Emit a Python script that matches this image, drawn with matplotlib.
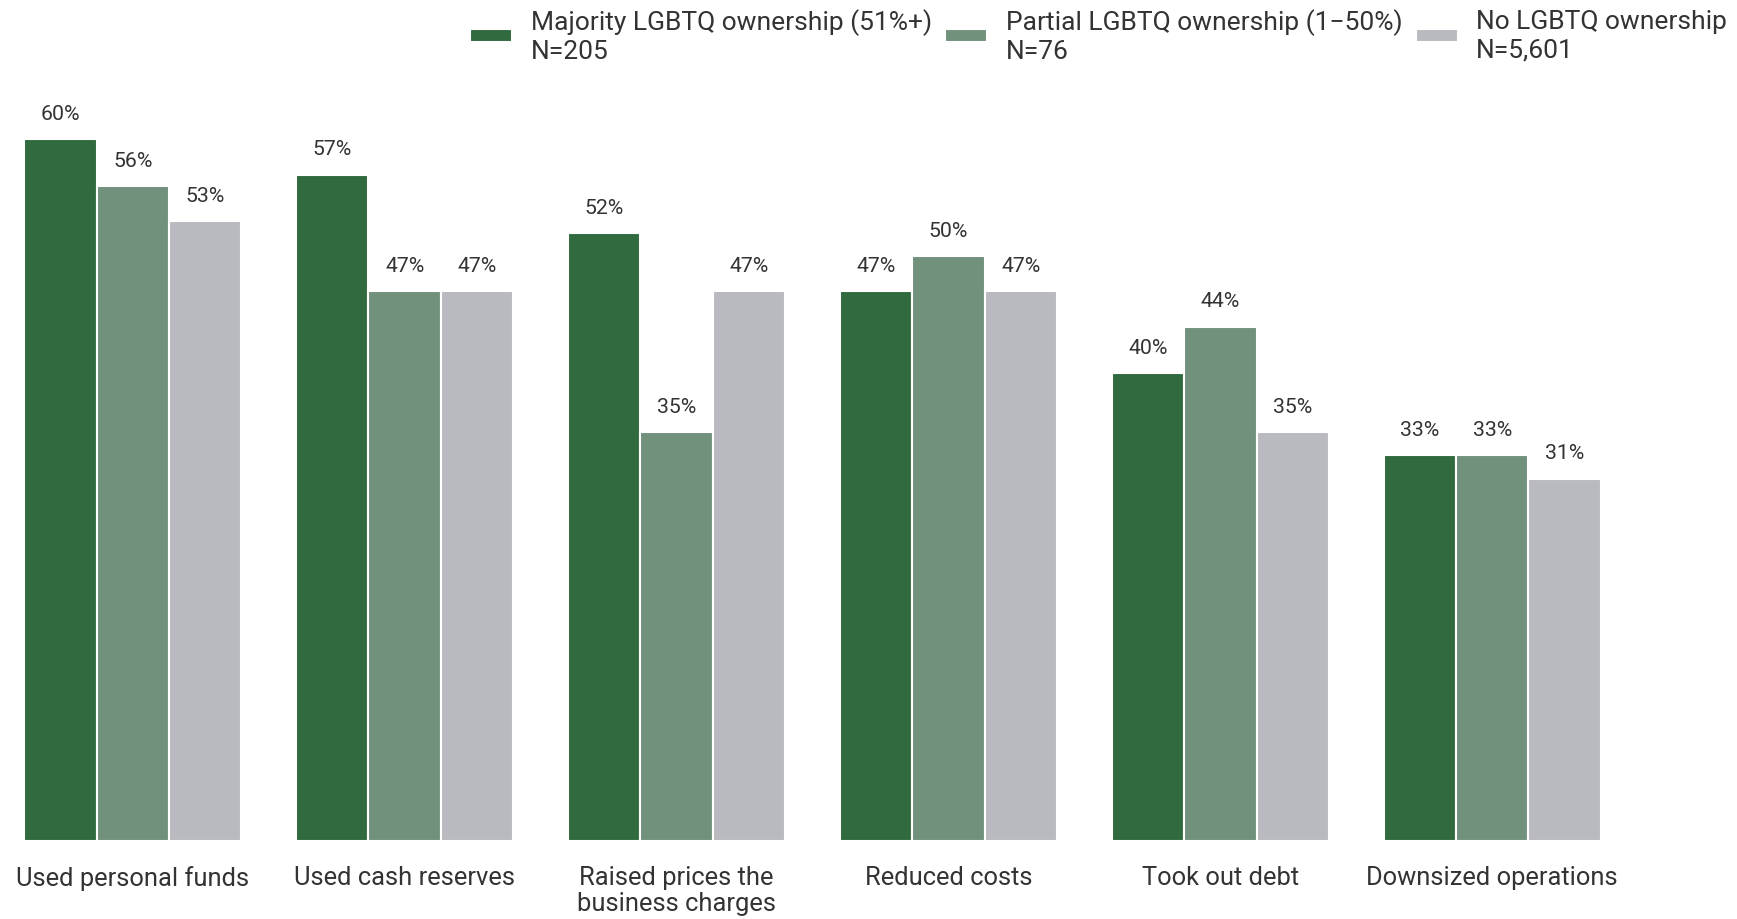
import numpy as np
import matplotlib.pyplot as plt

plt.rcParams['font.family'] = ['Roboto', 'DejaVu Sans']

categories = ["Used personal funds", "Used cash reserves", "Raised prices the\nbusiness charges",
              "Reduced costs", "Took out debt", "Downsized operations"]
majority = [60, 57, 52, 47, 40, 33]
partial = [56, 47, 35, 50, 44, 33]
none_lgbtq = [53, 47, 47, 47, 35, 31]

series_labels = ["Majority LGBTQ ownership (51%+)\nN=205",
                 "Partial LGBTQ ownership (1\u221250%)\nN=76",
                 "No LGBTQ ownership\nN=5,601"]
colors = ["#316a3e", "#72917c", "#b9babf"]


def main():
    fig = plt.figure(figsize=(17.37, 9.2), dpi=100)
    W, H = 1737, 920
    ax = fig.add_axes([24 / W, (H - 842) / H, 1577 / W, 760 / H])

    x = np.arange(len(categories))
    w = 0.266
    step = 0.266
    for i, (vals, lab, col) in enumerate(zip([majority, partial, none_lgbtq], series_labels, colors)):
        pos = x + (i - 1) * step
        bars = ax.bar(pos, vals, width=w, color=col, label=lab, edgecolor="white", linewidth=1.5)
        for b, v in zip(bars, vals):
            ax.annotate(f"{v}%", (b.get_x() + b.get_width() / 2, v), xytext=(0, 18.5),
                        textcoords="offset points", ha="center", va="center",
                        fontsize=15.3, color="#333333")

    ax.set_xlim(-0.4, 5.4)
    ax.set_ylim(0, 65)
    ax.set_xticks(x)
    ax.set_xticklabels(categories, fontsize=18.4, color="#333333", linespacing=1.15)
    ax.tick_params(axis="x", length=0, pad=17)
    ax.set_yticks([])
    for s in ax.spines.values():
        s.set_visible(False)

    fig.legend(loc="upper right", bbox_to_anchor=(1.008, 1.016), ncol=3, frameon=False,
               fontsize=19, handlelength=1.6, handleheight=0.42, handletextpad=0.7,
               columnspacing=0.5, labelcolor="#333333", labelspacing=0.2)

    fig.savefig("out.png", dpi=100)


if __name__ == "__main__":
    main()
